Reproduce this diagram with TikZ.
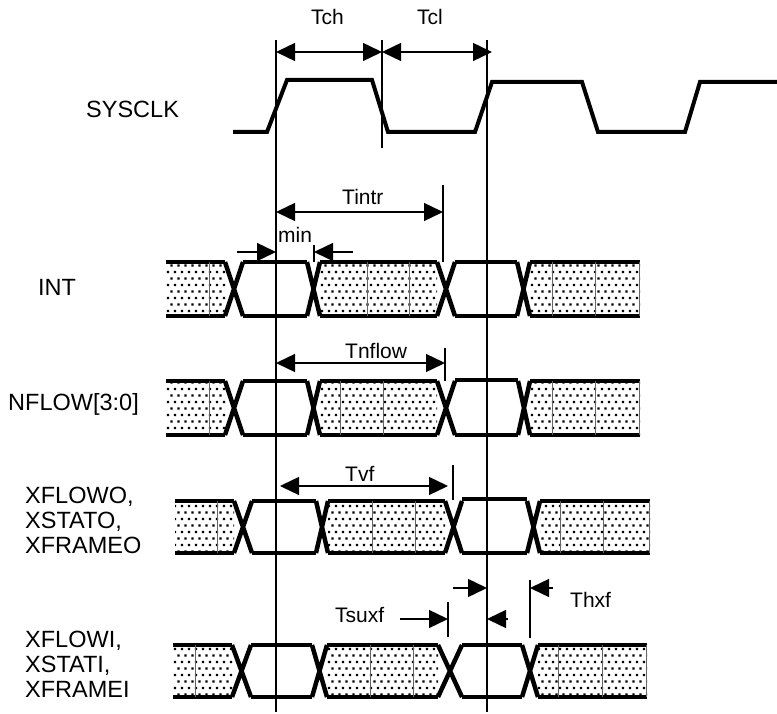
\documentclass[tikz,border=0pt]{standalone}
\usepackage{fontspec}
\setmainfont{Liberation Sans}
\usetikzlibrary{arrows.meta,patterns}
\pgfdeclarepatternformonly{mydots}{\pgfqpoint{-1.5pt}{-1.5pt}}{\pgfqpoint{8.5pt}{14.5pt}}{\pgfqpoint{7pt}{13pt}}{%
  \pgfpathrectangle{\pgfqpoint{-1.2pt}{-1.2pt}}{\pgfqpoint{2.4pt}{2.4pt}}%
  \pgfpathrectangle{\pgfqpoint{2.3pt}{5.3pt}}{\pgfqpoint{2.4pt}{2.4pt}}%
  \pgfusepath{fill}}
\tikzset{
  bus/.style={line width=4pt},
  xline/.style={line width=4.5pt},
  clk/.style={line width=4pt, line join=miter},
  thin/.style={line width=1.4pt},
  divider/.style={line width=0.6pt, black!60},
  dim/.style={line width=1.4pt, {Triangle[length=19pt,width=18pt]}-{Triangle[length=19pt,width=18pt]}},
  onearrow/.style={line width=1.4pt, -{Triangle[length=19pt,width=18pt]}},
  lbl/.style={anchor=base west, inner sep=0pt, font=\fontsize{21}{25}\selectfont},
  sig/.style={anchor=base west, inner sep=0pt, font=\fontsize{23.5}{25}\selectfont},
}
\newcommand\dbox[4]{%
  \fill[pattern=mydots] (#1,#3) rectangle (#2,#4);
  \draw[bus] (#1,#3) -- (#2,#3) (#1,#4) -- (#2,#4);}
\newcommand\cbox[4]{\draw[bus] (#1,#3) -- (#2,#3) (#1,#4) -- (#2,#4);}
\newcommand\xx[4]{\draw[xline] (#1,#3) -- (#2,#4) (#2,#3) -- (#1,#4);}
\newcommand\dv[3]{\draw[divider] (#1,#2) -- (#1,#3);}
\begin{document}
\begin{tikzpicture}[x=1pt,y=-1pt]
\useasboundingbox (0,0) rectangle (777,714);

% clock
\draw[clk] (233,132) -- (267,132) -- (287,80) -- (372,80) -- (388,132) -- (475,132) -- (492,82) -- (582,82) -- (598,132) -- (685,132) -- (700,82) -- (777,82);

% reference verticals
\coordinate (v1t) at (276,40); \coordinate (v1b) at (276,712);
\coordinate (v2t) at (382,40); \coordinate (v2b) at (382,148);
\coordinate (v3t) at (487,40); \coordinate (v3b) at (487,712);
\draw[thin] (v1t) -- (v1b) (v2t) -- (v2b) (v3t) -- (v3b);

% Tch / Tcl
\coordinate (tch1) at (276,52); \coordinate (tch2) at (382,52); \coordinate (tcl2) at (492,52);
\draw[dim] (tch1) -- (tch2);
\draw[dim] (tch2) -- (tcl2);
\node[lbl] (tchl) at (311,25) {Tch};
\node[lbl] (tcll) at (417,25) {Tcl};

% labels left
\node[sig] (sysclk) at (86,118) {SYSCLK};
\node[sig] (int) at (38,295) {INT};
\node[sig] (nflow) at (8,410) {NFLOW[3:0]};
\node[sig] (xo1) at (25,503) {XFLOWO,};
\node[sig] (xo2) at (25,528) {XSTATO,};
\node[sig] (xo3) at (25,553) {XFRAMEO};
\node[sig] (xi1) at (25,647) {XFLOWI,};
\node[sig] (xi2) at (25,672) {XSTATI,};
\node[sig] (xi3) at (25,697) {XFRAMEI};

% INT row
\dbox{166}{225}{262}{316} \dv{209}{262}{316}
\xx{225}{243}{262}{316}
\cbox{243}{307}{262}{316}
\xx{307}{320}{262}{316}
\dbox{320}{437}{262}{316} \dv{367}{262}{316} \dv{409}{262}{316}
\xx{437}{455}{262}{316}
\cbox{455}{517}{262}{316}
\xx{517}{530}{262}{316}
\dbox{530}{640}{262}{316} \dv{552}{262}{316} \dv{595}{262}{316} \dv{639}{262}{316}

% NFLOW row
\dbox{166}{225}{381}{435} \dv{209}{381}{435}
\xx{225}{243}{381}{435}
\cbox{243}{307}{381}{435}
\xx{307}{320}{381}{435}
\dbox{320}{437}{381}{435} \dv{340}{381}{435} \dv{383}{381}{435}
\xx{437}{455}{381}{435}
\cbox{455}{518}{380}{435}
\xx{518}{530}{381}{435}
\dbox{530}{640}{381}{435} \dv{552}{381}{435} \dv{595}{381}{435} \dv{639}{381}{435}

% XFLOWO row
\dbox{175}{234}{501}{553} \dv{217}{501}{553}
\xx{234}{252}{501}{553}
\cbox{252}{316}{501}{553}
\xx{316}{328}{501}{553}
\dbox{328}{445}{501}{553} \dv{372}{501}{553} \dv{415}{501}{553}
\xx{445}{462}{501}{553}
\cbox{462}{527}{499}{553}
\xx{527}{540}{501}{553}
\dbox{540}{650}{501}{553} \dv{560}{501}{553} \dv{603}{501}{553} \dv{649}{501}{553}

% XFLOWI row
\dbox{173}{232}{645}{697} \dv{195}{645}{697}
\xx{232}{251}{645}{697}
\cbox{251}{312}{645}{697}
\xx{312}{327}{645}{697}
\dbox{327}{438}{645}{697} \dv{370}{645}{697} \dv{413}{645}{697}
\xx{438}{462}{645}{697}
\cbox{462}{522}{645}{697}
\xx{522}{538}{645}{697}
\dbox{538}{647}{645}{697} \dv{558}{645}{697} \dv{602}{645}{697} \dv{646}{645}{697}

% Tintr
\coordinate (ti1) at (276,212); \coordinate (ti2) at (443,212);
\coordinate (tit) at (443,185); \coordinate (tib) at (443,262);
\draw[thin] (tit) -- (tib);
\draw[dim] (ti1) -- (ti2);
\node[lbl] (tintr) at (342,205) {Tintr};

% min
\coordinate (m1s) at (237,252); \coordinate (m1e) at (276,252);
\coordinate (m2s) at (353,252); \coordinate (m2e) at (314,252);
\coordinate (mtt) at (314,245); \coordinate (mtb) at (314,262);
\draw[thin] (mtt) -- (mtb);
\draw[onearrow] (m1s) -- (m1e);
\draw[onearrow] (m2s) -- (m2e);
\node[lbl] (min) at (278,243) {min};

% Tnflow
\coordinate (tn1) at (276,363); \coordinate (tn2) at (445,363);
\coordinate (tnt) at (445,348); \coordinate (tnb) at (445,381);
\draw[thin] (tnt) -- (tnb);
\draw[dim] (tn1) -- (tn2);
\node[lbl] (tnflow) at (345,358) {Tnflow};

% Tvf
\coordinate (tv1) at (280,486); \coordinate (tv2) at (448,486);
\coordinate (tvt) at (453,465); \coordinate (tvb) at (453,500);
\draw[thin] (tvt) -- (tvb);
\draw[dim] (tv1) -- (tv2);
\node[lbl] (tvf) at (345,481) {Tvf};

% Tsuxf / Thxf
\coordinate (su1) at (400,619); \coordinate (su2) at (448,619);
\coordinate (sut) at (448,602); \coordinate (sub) at (448,637);
\draw[thin] (sut) -- (sub);
\draw[onearrow] (su1) -- (su2);
\coordinate (a1s) at (453,588); \coordinate (a1e) at (487,588);
\draw[onearrow] (a1s) -- (a1e);
\coordinate (a2s) at (508,619); \coordinate (a2e) at (487,619);
\draw[onearrow] (a2s) -- (a2e);
\coordinate (hxt) at (530,580); \coordinate (hxb) at (530,638);
\draw[thin] (hxt) -- (hxb);
\coordinate (hx1) at (553,588); \coordinate (hx2) at (530,588);
\draw[onearrow] (hx1) -- (hx2);
\node[lbl] (tsuxf) at (335,622) {Tsuxf};
\node[lbl] (thxf) at (570,607) {Thxf};
\end{tikzpicture}
\end{document}
